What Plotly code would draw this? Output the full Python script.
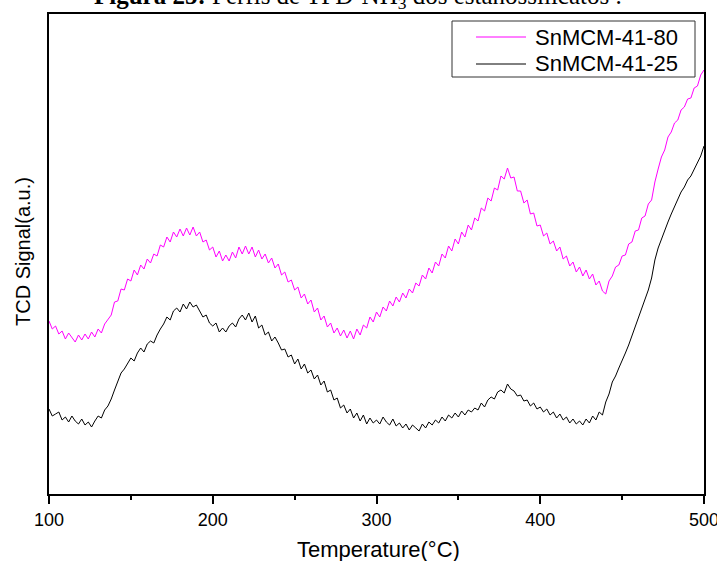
import plotly.graph_objects as go

# Temperature grid (°C), 2 °C steps
temperature = list(range(100, 501, 2))

# TCD signal (a.u.) for SnMCM-41-80
snmcm_80 = [
    173, 165, 168, 160, 163, 155, 161, 156, 152, 159, 154, 160, 155, 162, 157, 165, 161, 170, 174, 179,
    192, 193, 205, 204, 215, 213, 224, 219, 229, 225, 235, 231, 240, 238, 249, 247, 257, 252, 262, 257,
    265, 258, 266, 259, 267, 258, 262, 252, 254, 244, 247, 237, 243, 233, 239, 233, 242, 236, 247, 240,
    248, 240, 247, 237, 244, 235, 240, 231, 236, 226, 230, 219, 222, 212, 214, 204, 207, 196, 200, 190,
    194, 182, 186, 174, 178, 167, 171, 161, 166, 158, 164, 156, 163, 155, 165, 159, 169, 166, 177, 172,
    182, 177, 187, 183, 193, 188, 197, 192, 201, 196, 205, 201, 211, 208, 219, 215, 226, 221, 232, 228,
    240, 236, 248, 243, 255, 250, 262, 257, 269, 264, 276, 273, 286, 283, 296, 293, 306, 304, 318, 315,
    326, 316, 317, 303, 303, 291, 294, 280, 281, 268, 269, 258, 261, 250, 253, 243, 247, 235, 238, 228,
    232, 222, 227, 218, 224, 215, 220, 209, 213, 203, 200, 213, 218, 227, 229, 238, 239, 250, 252, 263,
    264, 276, 278, 290, 294, 312, 325, 337, 344, 357, 362, 371, 374, 384, 387, 395, 396, 406, 408, 419,
    424,
]

# TCD signal (a.u.) for SnMCM-41-25
snmcm_25 = [
    85, 78, 80, 82, 74, 77, 72, 78, 73, 70, 75, 69, 72, 67, 73, 78, 76, 84, 88, 95,
    104, 113, 121, 125, 131, 136, 133, 141, 146, 142, 150, 153, 151, 159, 165, 170, 177, 174, 183, 186,
    182, 190, 185, 192, 187, 189, 183, 177, 179, 171, 168, 171, 162, 166, 162, 168, 171, 167, 175, 179,
    174, 181, 172, 178, 166, 169, 159, 162, 153, 157, 151, 144, 145, 137, 139, 130, 135, 125, 130, 121,
    124, 115, 119, 109, 113, 102, 104, 94, 96, 86, 89, 81, 85, 76, 81, 73, 79, 70, 76, 71,
    74, 70, 77, 72, 69, 75, 68, 71, 66, 70, 64, 69, 66, 63, 70, 66, 72, 69, 74, 71,
    77, 73, 79, 76, 81, 77, 83, 79, 84, 82, 86, 84, 91, 87, 94, 97, 95, 102, 104, 101,
    110, 105, 103, 98, 99, 93, 94, 88, 91, 85, 87, 82, 85, 79, 82, 76, 80, 74, 77, 71,
    75, 70, 73, 69, 75, 71, 78, 74, 82, 79, 92, 100, 112, 118, 126, 133, 141, 149, 158, 166,
    176, 184, 195, 204, 216, 234, 246, 255, 265, 272, 280, 287, 294, 302, 307, 314, 318, 325, 331, 338,
    348,
]

x_ticks = [100, 200, 300, 400, 500]
series_names = ["SnMCM-41-80", "SnMCM-41-25"]
series_colors = ["#FF00FF", "#000000"]

FONT = "Arial, Liberation Sans, sans-serif"

# pixel helpers for the paper-anchored decorations (plot area 49..704 x 14..494)
def px_x(p):
    return (p - 49) / 655

def px_y(p):
    return (494 - p) / 480

fig = go.Figure()
for name, color, values in zip(series_names, series_colors, [snmcm_80, snmcm_25]):
    fig.add_trace(go.Scatter(x=temperature, y=values, mode="lines", name=name,
                             line=dict(color=color, width=1), showlegend=False))

# legend box with sample lines and labels
shapes = [dict(type="rect", xref="paper", yref="paper",
               x0=px_x(452), x1=px_x(695), y0=px_y(77), y1=px_y(21),
               line=dict(color="#333333", width=1), fillcolor="white", layer="above")]
annotations = []
for i, (name, color) in enumerate(zip(series_names, series_colors)):
    row_y = [37, 64][i]
    shapes.append(dict(type="line", xref="paper", yref="paper",
                       x0=px_x(476), x1=px_x(526), y0=px_y(row_y), y1=px_y(row_y),
                       line=dict(color=color, width=1), layer="above"))
    annotations.append(dict(text=name, xref="paper", yref="paper", x=px_x(533), y=px_y(row_y),
                            xanchor="left", yanchor="middle", showarrow=False,
                            font=dict(family=FONT, size=22, color="black")))

annotations += [
    dict(text="Temperature(°C)", xref="paper", yref="paper", x=px_x(379), y=px_y(549),
         xanchor="center", yanchor="middle", showarrow=False,
         font=dict(family=FONT, size=22, color="black")),
    dict(text="TCD Signal(a.u.)", xref="paper", yref="paper", x=px_x(23), y=px_y(252),
         xanchor="center", yanchor="middle", textangle=-90, showarrow=False,
         font=dict(family=FONT, size=20, color="black")),
    dict(text="<b>Figura 25:</b> Perfis de TPD-NH<sub>3</sub> dos estanossilicatos .",
         xref="paper", yref="paper", x=px_x(358), y=px_y(-2),
         xanchor="center", yanchor="middle", showarrow=False,
         font=dict(family="Times New Roman, Liberation Serif, serif", size=25, color="black")),
]

fig.update_layout(
    width=717, height=561,
    margin=dict(l=49, r=13, t=14, b=67, autoexpand=False),
    paper_bgcolor="white", plot_bgcolor="white",
    font=dict(family=FONT, color="black"),
    showlegend=False,
    shapes=shapes,
    annotations=annotations,
    xaxis=dict(
        range=[100, 500], tickvals=x_ticks, ticktext=[str(v) for v in x_ticks],
        showgrid=False, zeroline=False, automargin=False,
        showline=True, linecolor="black", linewidth=2, mirror=True,
        ticks="outside", ticklen=8, tickwidth=1.5, tickcolor="black",
        ticklabeloverflow="allow",
        tickfont=dict(family=FONT, size=18, color="black"),
        minor=dict(dtick=50, tick0=100, ticks="outside", ticklen=4, tickwidth=1.5, tickcolor="black"),
    ),
    yaxis=dict(
        range=[0, 480], showticklabels=False, ticks="", automargin=False,
        showgrid=False, zeroline=False,
        showline=True, linecolor="black", linewidth=2, mirror=True,
    ),
)

fig.write_html("out.html")
